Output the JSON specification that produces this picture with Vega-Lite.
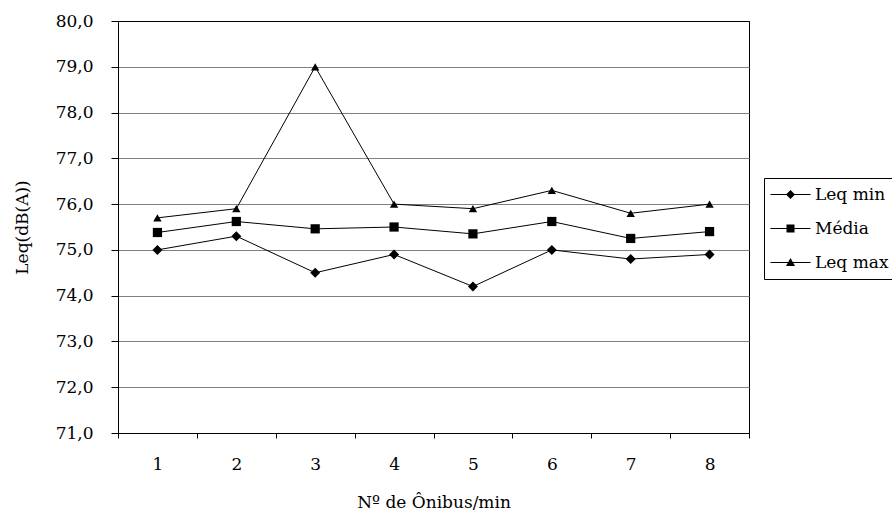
{
  "$schema": "https://vega.github.io/schema/vega-lite/v6.json",
  "width": 631,
  "height": 412,
  "autosize": "none",
  "padding": {"left": 118, "top": 21, "right": 143, "bottom": 79},
  "background": "white",
  "config": {
    "view": {"stroke": "black", "strokeWidth": 1},
    "font": "DejaVu Serif",
    "axis": {
      "labelFont": "DejaVu Serif",
      "titleFont": "DejaVu Serif",
      "labelFontSize": 17,
      "titleFontSize": 17,
      "titleFontWeight": "normal",
      "labelColor": "black",
      "titleColor": "black",
      "domainColor": "black",
      "tickColor": "black",
      "domainWidth": 1,
      "tickWidth": 1
    }
  },
  "data": {
    "values": [
      {"onibus": 1, "serie": "Leq min", "leq": 75.0},
      {"onibus": 2, "serie": "Leq min", "leq": 75.3},
      {"onibus": 3, "serie": "Leq min", "leq": 74.5},
      {"onibus": 4, "serie": "Leq min", "leq": 74.9},
      {"onibus": 5, "serie": "Leq min", "leq": 74.2},
      {"onibus": 6, "serie": "Leq min", "leq": 75.0},
      {"onibus": 7, "serie": "Leq min", "leq": 74.8},
      {"onibus": 8, "serie": "Leq min", "leq": 74.9},
      {"onibus": 1, "serie": "Média", "leq": 75.38},
      {"onibus": 2, "serie": "Média", "leq": 75.62},
      {"onibus": 3, "serie": "Média", "leq": 75.46},
      {"onibus": 4, "serie": "Média", "leq": 75.5},
      {"onibus": 5, "serie": "Média", "leq": 75.35},
      {"onibus": 6, "serie": "Média", "leq": 75.62},
      {"onibus": 7, "serie": "Média", "leq": 75.25},
      {"onibus": 8, "serie": "Média", "leq": 75.4},
      {"onibus": 1, "serie": "Leq max", "leq": 75.7},
      {"onibus": 2, "serie": "Leq max", "leq": 75.9},
      {"onibus": 3, "serie": "Leq max", "leq": 79.0},
      {"onibus": 4, "serie": "Leq max", "leq": 76.0},
      {"onibus": 5, "serie": "Leq max", "leq": 75.9},
      {"onibus": 6, "serie": "Leq max", "leq": 76.3},
      {"onibus": 7, "serie": "Leq max", "leq": 75.8},
      {"onibus": 8, "serie": "Leq max", "leq": 76.0}
    ]
  },
  "encoding": {
    "x": {
      "field": "onibus",
      "type": "quantitative",
      "scale": {"domain": [0.5, 8.5], "nice": false, "zero": false},
      "axis": {
        "title": "Nº de Ônibus/min",
        "values": [0.5, 1, 1.5, 2, 2.5, 3, 3.5, 4, 4.5, 5, 5.5, 6, 6.5, 7, 7.5, 8, 8.5],
        "labelExpr": "datum.value % 1 == 0 ? datum.value : ''",
        "tickOpacity": {"condition": {"test": "datum.value % 1 == 0", "value": 0}, "value": 1},
        "tickSize": 5,
        "labelPadding": 18,
        "titlePadding": 22,
        "grid": false,
        "labelFlush": false,
        "labelOverlap": false
      }
    },
    "y": {
      "field": "leq",
      "type": "quantitative",
      "scale": {"domain": [71, 80], "nice": false, "zero": false},
      "axis": {
        "title": "Leq(dB(A))",
        "values": [71, 72, 73, 74, 75, 76, 77, 78, 79, 80],
        "labelExpr": "replace(format(datum.value, '.1f'), '.', ',')",
        "grid": true,
        "gridColor": {"condition": {"test": "datum.value == 80", "value": "black"}, "value": "#808080"},
        "gridWidth": 1,
        "tickSize": 7,
        "labelPadding": 18,
        "titlePadding": 24,
        "labelFlush": false,
        "labelOverlap": false
      }
    }
  },
  "layer": [
    {
      "mark": {"type": "line", "color": "black", "strokeWidth": 1},
      "encoding": {"detail": {"field": "serie"}}
    },
    {
      "mark": {"type": "point", "filled": true, "color": "black", "opacity": 1},
      "encoding": {
        "shape": {
          "field": "serie",
          "scale": {"domain": ["Leq min", "Média", "Leq max"], "range": ["diamond", "square", "triangle-up"]},
          "legend": null
        },
        "size": {
          "field": "serie",
          "scale": {"domain": ["Leq min", "Média", "Leq max"], "range": [100, 70, 100]},
          "legend": null
        }
      }
    },
    {
      "transform": [{"filter": "false"}],
      "mark": {"type": "point", "filled": true, "color": "black", "opacity": 1, "size": 100},
      "encoding": {
        "shape": {
          "field": "serie",
          "scale": {
            "domain": ["Leq min", "Média", "Leq max"],
            "range": [
              "M-4,-0.1L4,-0.1L4,0.1L-4,0.1ZM0,-0.9L0.9,0L0,0.9L-0.9,0Z",
              "M-4,-0.1L4,-0.1L4,0.1L-4,0.1ZM-0.8,-0.8L0.8,-0.8L0.8,0.8L-0.8,0.8Z",
              "M-4,-0.1L4,-0.1L4,0.1L-4,0.1ZM0,-0.9L0.9,0.7L-0.9,0.7Z"
            ]
          },
          "legend": {
            "title": null,
            "orient": "none",
            "legendX": 646,
            "legendY": 157,
            "strokeColor": "black",
            "fillColor": "white",
            "padding": 8,
            "labelFont": "DejaVu Serif",
            "labelFontSize": 17,
            "labelColor": "black",
            "symbolSize": 100,
            "symbolOffset": 10,
            "labelOffset": 16,
            "rowPadding": 16,
            "symbolFillColor": "black",
            "symbolStrokeColor": "black",
            "symbolOpacity": 1
          }
        }
      }
    }
  ],
  "resolve": {"scale": {"shape": "independent", "size": "independent"}}
}
